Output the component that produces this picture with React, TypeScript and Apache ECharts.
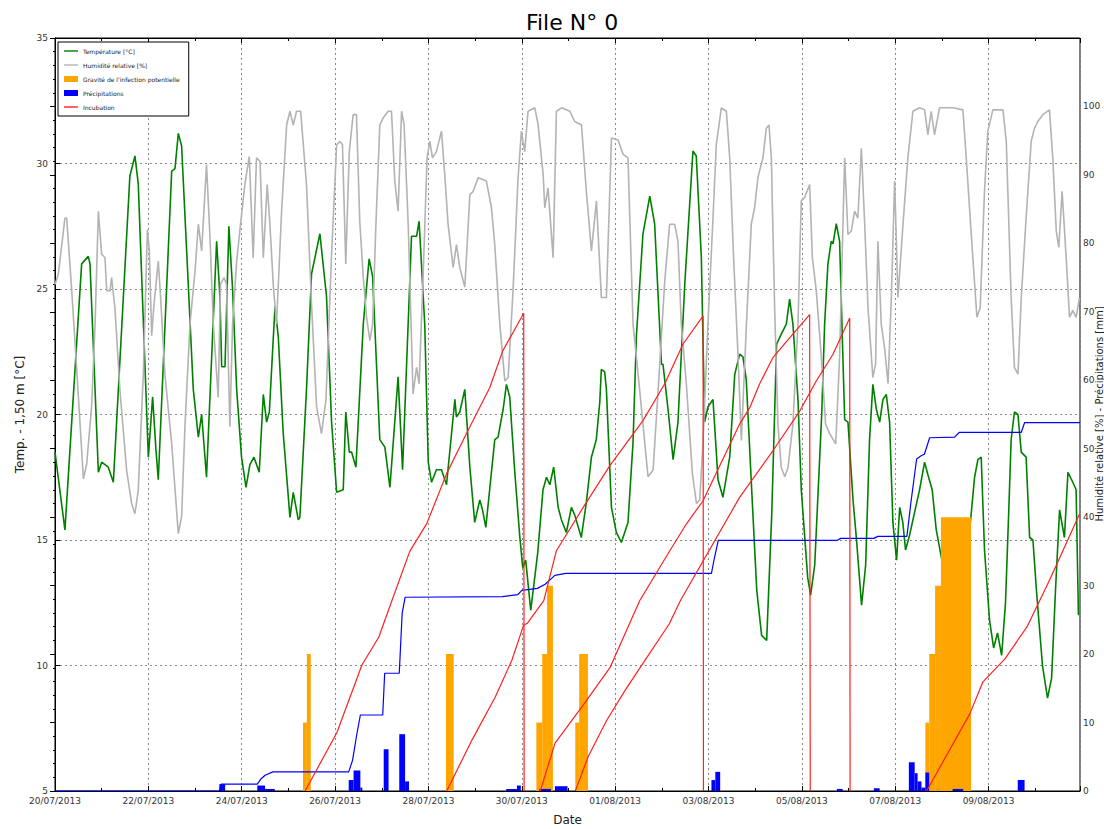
import React, { useEffect, useRef } from 'react';
import * as echarts from 'echarts';

const FONT = 'DejaVu Sans';
const START_UTC = Date.UTC(2013, 6, 20); // 20/07/2013 00:00, x values are hours since this
const X_MAX_HOURS = 527;
const X_TICK_HOURS = 48;

const legendNames = [
  'Température [°C]',
  'Humidité relative [%]',
  "Gravité de l'infection potentielle",
  'Précipitations',
  'Incubation',
];
const rightAxisTitle = 'Humidité relative [%] - Précipitations [mm]';

// [hour, °C]
const temperature: number[][] = [
  [0,18.5],[5.1,15.4],[13.7,26.0],[17.1,26.3],[18.0,26.0],[22.3,17.7],[24.0,18.1],[27.4,17.9],[30.0,17.3],
  [38.5,29.5],[41.1,30.3],[42.8,29.2],[48.0,18.3],[50.2,20.7],[51.9,18.6],[53.1,17.4],[60.0,29.7],[61.7,29.8],
  [63.4,31.2],[65.1,30.7],[71.1,21.0],[73.7,19.1],[75.4,20.0],[77.9,17.5],[83.1,26.9],[84.8,24.7],[85.7,21.9],
  [87.4,21.9],[89.4,27.5],[91.3,25.0],[93.4,21.0],[95.9,18.3],[98.2,17.1],[100.2,18.0],[102.3,18.3],[105.0,17.7],
  [107.1,20.8],[108.8,19.7],[110.2,20.1],[113.1,24.3],[114.8,23.1],[117.3,19.3],[120.8,15.9],[122.5,16.9],
  [125.1,15.8],[125.9,15.9],[129.3,21.0],[131.9,25.6],[136.2,27.2],[139.6,24.7],[142.2,19.7],[144.8,16.9],
  [148.2,17.0],[149.5,20.1],[151.3,18.5],[152.5,18.5],[154.7,17.9],[158.5,23.6],[161.5,26.2],[163.3,25.5],
  [167.0,19.0],[169.6,18.7],[172.2,17.1],[176.4,21.5],[178.7,17.8],[183.3,27.1],[185.9,27.1],[187.2,27.7],
  [190.1,23.6],[191.9,18.1],[193.6,17.3],[196.1,17.8],[198.7,17.8],[201.3,17.2],[205.6,20.6],[206.4,19.9],
  [208.1,20.1],[210.7,21.0],[213.3,17.9],[215.8,15.7],[218.4,16.6],[219.8,16.2],[221.5,15.5],[226.1,19.0],
  [227.8,19.1],[230.4,20.2],[232.1,21.2],[233.8,20.7],[236.4,17.7],[239.0,15.1],[240.5,13.9],[242.0,14.2],
  [244.6,12.2],[248.2,14.5],[250.9,17.0],[252.7,17.5],[254.4,17.2],[256.4,17.9],[258.7,16.3],[260.4,15.8],
  [262.9,15.3],[265.5,16.3],[267.2,16.0],[270.6,15.1],[273.2,16.5],[275.8,18.3],[278.3,19.0],[280.1,20.5],
  [280.9,21.8],[282.6,21.7],[283.5,21.0],[286.1,16.3],[288.6,15.3],[291.2,14.9],[294.6,15.7],[297.2,18.9],
  [298.9,23.1],[302.3,27.2],[305.8,28.7],[308.3,27.6],[311.8,22.0],[312.6,22.0],[315.2,20.2],[317.8,18.2],
  [320.3,19.7],[323.8,25.2],[328.0,30.5],[329.7,30.3],[332.3,26.3],[334.0,19.7],[335.7,20.3],[338.3,20.6],
  [340.9,17.4],[343.4,16.7],[346.9,18.3],[349.5,21.6],[352.0,22.4],[353.7,22.3],[355.4,21.4],[358.2,17.0],
  [360.8,13.0],[363.3,11.2],[365.9,11.0],[368.5,16.0],[371.0,22.8],[373.4,23.2],[376.0,23.6],[377.7,24.6],
  [379.4,23.6],[382.0,20.6],[383.7,17.0],[387.0,13.5],[388.5,12.8],[390.6,14.0],[394.2,20.0],[395.7,23.6],
  [397.4,26.0],[399.1,26.9],[400.0,26.8],[401.7,27.6],[403.4,26.9],[406.0,19.8],[407.7,19.7],[410.3,16.6],
  [412.1,15.0],[414.7,12.4],[416.8,14.0],[418.8,19.0],[420.5,21.2],[422.3,20.2],[424.0,19.7],[425.7,20.6],
  [427.4,20.8],[429.1,19.7],[430.8,15.7],[432.7,14.2],[434.3,16.3],[435.9,15.7],[437.3,14.6],[439.4,15.2],
  [444.5,17.0],[447.1,18.1],[448.8,17.6],[451.0,17.0],[453.1,15.4],[457.9,13.4],[461.0,13.8],[465.1,14.0],
  [469.2,14.5],[472.8,17.5],[474.5,18.2],[476.2,18.3],[477.9,14.6],[480.5,11.8],[482.6,10.7],[484.6,11.3],
  [486.7,10.4],[488.7,12.5],[490.3,16.0],[491.6,19.0],[493.3,20.1],[495.1,20.0],[496.8,18.5],[499.3,18.3],
  [501.1,15.1],[502.8,15.0],[504.6,13.0],[507.7,10.0],[510.3,8.7],[512.4,9.5],[514.4,13.0],[516.5,16.2],
  [519.0,15.1],[520.8,17.7],[523.3,17.3],[525.0,17.0],[526.2,12.0],
];

// [hour, %]
const humidity: number[][] = [
  [0,74.0],[1.7,75.5],[5.1,83.7],[6.0,83.7],[8.6,73.1],[11.1,61.9],[14.6,45.6],[16.3,47.8],[18.8,56.1],
  [20.6,68.2],[22.3,84.7],[24.0,78.4],[25.7,77.9],[26.6,73.1],[28.3,73.1],[29.1,75.0],[30.8,70.6],[33.4,58.5],
  [36.8,46.9],[39.4,42.0],[41.1,40.5],[42.8,43.9],[45.4,60.9],[47.5,82.0],[48.5,78.9],[49.7,66.5],[50.9,71.1],
  [53.1,77.4],[54.3,72.1],[56.5,60.9],[60.0,50.7],[63.4,37.6],[65.1,40.1],[66.8,53.2],[69.4,68.2],[72.0,76.0],
  [73.7,82.8],[75.4,78.9],[77.9,91.5],[79.7,80.8],[81.4,68.2],[83.9,57.5],[85.1,74.0],[86.9,75.0],[88.2,74.0],
  [89.9,53.2],[91.3,68.2],[93.4,77.4],[95.4,82.8],[97.6,88.6],[99.9,92.7],[101.9,77.9],[103.6,92.5],[105.4,92.0],
  [107.1,77.9],[109.1,88.6],[110.5,82.8],[112.2,74.0],[113.9,68.2],[116.5,84.7],[119.1,97.3],[120.8,99.3],
  [122.5,97.3],[124.2,99.3],[126.3,99.3],[129.3,88.6],[131.9,71.1],[134.5,56.1],[137.0,52.2],[139.3,57.1],
  [142.2,78.4],[144.8,94.4],[146.5,94.9],[147.8,94.4],[149.5,77.0],[151.3,93.4],[153.3,98.8],[155.0,98.8],
  [156.7,83.2],[158.5,75.0],[160.2,69.2],[161.9,65.8],[163.3,68.2],[165.0,82.8],[167.0,97.3],[168.7,98.3],
  [171.3,99.3],[173.0,99.3],[174.7,89.1],[176.4,84.7],[178.2,99.3],[179.5,97.3],[181.6,82.8],[184.1,58.0],
  [185.9,61.9],[187.2,59.5],[189.3,75.5],[191.3,92.5],[192.7,94.9],[194.1,92.5],[196.1,93.4],[198.7,96.4],
  [200.4,90.0],[202.1,82.8],[204.7,76.5],[206.4,79.8],[208.1,76.5],[210.7,73.6],[213.3,87.1],[215.0,87.6],
  [217.6,89.6],[221.8,89.1],[224.4,85.2],[226.1,79.8],[228.7,68.2],[231.3,59.9],[233.0,60.4],[235.5,73.1],
  [238.1,89.6],[239.8,96.4],[241.5,93.4],[243.2,99.3],[246.7,99.8],[248.4,97.3],[251.0,90.0],[251.8,85.2],
  [253.5,88.1],[256.1,77.9],[257.8,99.3],[260.4,99.8],[264.7,99.3],[267.2,97.8],[270.7,97.3],[273.2,87.6],
  [275.8,78.9],[278.4,86.2],[280.9,72.1],[283.5,72.1],[286.1,95.4],[289.5,95.1],[292.1,93.0],[294.6,92.5],
  [297.2,68.2],[299.8,60.9],[302.3,53.6],[304.9,45.9],[307.5,46.9],[310.1,58.5],[313.5,74.5],[316.0,82.8],
  [318.6,82.8],[320.3,80.3],[322.0,68.2],[324.6,59.5],[327.7,46.4],[329.8,42.0],[331.5,42.5],[333.2,51.2],
  [335.7,68.2],[338.3,83.7],[340.0,94.4],[342.6,99.8],[345.2,99.3],[346.9,92.5],[348.9,77.9],[351.2,63.4],
  [352.9,51.2],[355.5,68.2],[358.0,82.8],[359.7,85.2],[361.4,89.6],[364.0,92.5],[365.7,96.8],[367.1,97.3],
  [368.3,92.5],[370.0,70.6],[371.7,53.6],[373.4,47.3],[375.2,45.9],[376.9,47.3],[379.4,53.6],[382.0,68.2],
  [383.7,86.2],[385.4,86.7],[388.0,88.6],[389.4,77.9],[391.4,73.1],[394.0,63.4],[396.2,53.6],[398.3,52.2],
  [401.4,50.7],[403.4,63.4],[406.0,92.5],[407.7,81.3],[409.4,81.8],[411.1,84.7],[412.8,83.7],[414.6,93.9],
  [416.3,82.8],[418.0,70.6],[420.5,60.4],[421.9,62.4],[423.1,80.3],[424.8,68.2],[426.5,64.8],[428.3,59.5],
  [430.0,72.1],[431.7,89.1],[433.4,72.1],[436.0,82.8],[438.5,92.5],[441.1,99.3],[444.5,99.8],[447.1,99.5],
  [448.8,95.9],[450.5,99.3],[452.2,95.9],[454.8,99.8],[461.7,99.8],[466.8,99.5],[468.5,92.5],[471.9,77.9],
  [474.0,69.2],[475.7,70.6],[477.9,87.6],[479.6,96.4],[482.2,99.5],[487.4,99.5],[489.1,94.9],[491.6,72.1],
  [493.3,61.9],[495.1,60.9],[496.8,72.1],[499.3,83.7],[501.9,94.9],[503.6,96.8],[505.3,97.8],[507.9,98.8],
  [511.3,99.5],[513.0,92.5],[514.8,81.8],[516.1,79.4],[517.8,87.6],[519.9,77.9],[521.6,69.2],[523.3,70.2],
  [525.0,69.2],[526.7,72.0],
];

// [start hour, end hour, level]
const gravity: number[][] = [
  [127.5,129.5,10],[129.5,131.5,20],
  [201,205,20],
  [247.5,250.5,10],[250.5,253,20],[253,256,30],
  [267.5,269.5,10],[269.5,274,20],
  [447.5,449.5,10],[449.5,452.5,20],[452.5,455.5,30],[455.5,471,40],
];

// [start hour, end hour, mm]
const precipitation: number[][] = [
  [84.5,87.5,1.0],
  [104,108,0.8],[108,113,0.3],
  [151,153.5,1.6],[153.5,157,3.0],[157,158,0.5],
  [169,171.5,6.1],
  [177,180,8.3],[180,182,1.4],
  [232,237.5,0.3],[237.5,239.5,0.8],
  [249,255,0.3],
  [257,263.5,0.7],
  [337.5,339.5,1.6],[339.5,342,2.8],
  [402,405,0.3],
  [421,424,0.4],
  [439,442,4.2],[442,443.5,2.6],[443.5,445.5,1.4],[445.5,447.5,0.5],[447.5,449.5,2.7],
  [461.5,467,0.3],
  [495,498.5,1.6],
];

// [hour, mm] cumulative precipitation
const cumulativePrecip: number[][] = [
  [0,0],[84.5,0],[85.5,1.0],[104,1.0],[106,1.8],[108,2.3],[112,2.8],[151,2.8],[153,4.5],[155,8],[157,11.1],
  [168.5,11.1],[169.5,17.2],[177,17.2],[178.5,26],[180,28.3],[230,28.4],[238,28.7],[240,29.3],[248,29.6],
  [252,30.2],[257,31.5],[262.5,31.8],[337.5,31.8],[339,34],[341,36.6],[402,36.6],[404,36.9],[421,36.9],
  [423,37.2],[438,37.2],[440,42],[443,48.5],[445.5,49],[447,49.2],[449.7,51.6],[462.5,51.7],[465,52.4],
  [496.8,52.4],[498.5,53.8],[527,53.8],
];

// incubation progress curves [hour, value]
const incubation1: number[][] = [
  [128.6,0],[144.9,8.5],[157.8,18.4],[166.5,22.5],[173.2,27.8],[182.4,35.0],[191.2,39.1],[201.4,46.4],
  [212.2,52.6],[223.5,58.9],[230.2,64.3],[241.0,69.8],[241.2,0],
];
const incubation2: number[][] = [
  [201.4,0],[214.3,7.4],[226.3,13.7],[234.9,19.1],[240.9,24.2],[242.8,24.5],[251.3,27.8],[257.8,35.1],
  [271.5,41.4],[285.2,47.5],[302.3,54.1],[313.5,59.5],[322.9,65.3],[331.5,68.7],[333.2,69.4],[333.4,0],
];
const incubation3: number[][] = [
  [249.5,0],[257.1,7.0],[272.2,12.8],[285.5,18.1],[300.6,27.8],[316.1,35.1],[324.6,39.0],[333.2,42.4],
  [352.0,53.6],[357.2,56.0],[362.3,59.5],[369.1,63.3],[377.7,66.2],[388.0,69.6],[388.3,0],
];
const incubation4: number[][] = [
  [267.5,0],[274.1,5.0],[283.6,10.3],[293.1,14.7],[304.5,19.6],[315.8,24.4],[321.5,27.8],[352.0,42.9],
  [369.1,49.7],[382.9,55.5],[391.4,59.9],[400.0,63.8],[408.6,69.1],[408.8,0],
];
const incubation5: number[][] = [
  [448.1,0],[470.4,11.3],[477.0,15.9],[488.4,19.3],[499.8,24.0],[511.3,30.8],[518.2,35.1],[526.8,40.5],
];
const incubations = [incubation1, incubation2, incubation3, incubation4, incubation5];

const pad = (n: number) => String(n).padStart(2, '0');
const fmtDate = (h: number) => {
  const d = new Date(START_UTC + h * 3600000);
  return `${pad(d.getUTCDate())}/${pad(d.getUTCMonth() + 1)}/${d.getUTCFullYear()}`;
};

const barRenderer = (color: string) => (params: any, api: any) => {
  const p0 = api.coord([api.value(0), api.value(2)]);
  const p1 = api.coord([api.value(1), 0]);
  return {
    type: 'rect',
    shape: { x: p0[0], y: p0[1], width: p1[0] - p0[0], height: p1[1] - p0[1] },
    style: { fill: color },
  };
};

const LINE_ICON = 'path://M0,0 L20,0 L20,2 L0,2 Z';

export default function App() {
  const ref = useRef<HTMLDivElement>(null);
  useEffect(() => {
    const chart = echarts.init(ref.current!, null, { renderer: 'svg' });
    const tickLabel = { fontFamily: FONT, fontSize: 9, color: '#333' };
    const gridLine = { show: true, lineStyle: { color: '#8a8a8a', type: [2, 3], width: 1 } };
    const option: any = {
      animation: false,
      backgroundColor: '#fff',
      title: {
        text: 'File N° 0',
        left: 567,
        top: 6,
        textAlign: 'center',
        textStyle: { fontFamily: FONT, fontSize: 22, fontWeight: 'normal', color: '#000' },
      },
      graphic: [
        {
          type: 'text',
          x: 1099.5,
          y: 414,
          rotation: Math.PI / 2,
          style: {
            text: rightAxisTitle,
            fontFamily: FONT,
            fontSize: 10,
            fill: '#222',
            align: 'center',
            verticalAlign: 'middle',
          },
        },
      ],
      legend: {
        orient: 'vertical',
        left: 58,
        top: 42,
        itemWidth: 14,
        itemHeight: 6,
        itemGap: 8,
        padding: [6, 9, 6, 6],
        borderColor: '#000',
        borderWidth: 1,
        backgroundColor: '#fff',
        textStyle: { fontFamily: FONT, fontSize: 6, color: '#222' },
        data: [
          { name: legendNames[0], icon: LINE_ICON },
          { name: legendNames[1], icon: LINE_ICON },
          { name: legendNames[2], icon: 'rect' },
          { name: legendNames[3], icon: 'rect' },
          { name: legendNames[4], icon: LINE_ICON },
        ],
      },
      grid: {
        left: 55,
        right: 24,
        top: 38,
        bottom: 38,
        show: true,
        borderColor: '#000',
        borderWidth: 1,
        backgroundColor: 'transparent',
        containLabel: false,
        outerBoundsMode: 'none',
      },
      xAxis: [
        {
          type: 'value',
          min: 0,
          max: X_MAX_HOURS,
          interval: X_TICK_HOURS,
          name: 'Date',
          nameLocation: 'middle',
          nameGap: 23,
          nameTextStyle: { fontFamily: FONT, fontSize: 12, color: '#222' },
          axisLine: { lineStyle: { color: '#000', width: 1 } },
          axisTick: { inside: true, length: 5, lineStyle: { color: '#000' } },
          minorTick: { show: true, splitNumber: 2, length: 3, lineStyle: { color: '#000' } },
          axisLabel: { ...tickLabel, margin: 5, showMaxLabel: false, formatter: (v: number) => fmtDate(v) },
          splitLine: gridLine,
        },
        {
          type: 'value',
          position: 'top',
          min: 0,
          max: X_MAX_HOURS,
          interval: X_TICK_HOURS,
          axisLine: { lineStyle: { color: '#000', width: 1 } },
          axisTick: { inside: true, length: 5, lineStyle: { color: '#000' } },
          minorTick: { show: true, splitNumber: 2, length: 3, lineStyle: { color: '#000' } },
          axisLabel: { show: false },
          splitLine: { show: false },
        },
      ],
      yAxis: [
        {
          type: 'value',
          min: 5,
          max: 35,
          interval: 5,
          name: 'Temp. - 1,50 m [°C]',
          nameLocation: 'middle',
          nameGap: 28,
          nameRotate: 90,
          nameTextStyle: { fontFamily: FONT, fontSize: 12, color: '#222' },
          axisLine: { show: true, lineStyle: { color: '#000', width: 1 } },
          axisTick: { show: true, inside: true, length: 5, lineStyle: { color: '#000' } },
          axisLabel: { ...tickLabel, margin: 7 },
          splitLine: gridLine,
        },
        {
          type: 'value',
          min: 0,
          max: 110,
          interval: 10,
          position: 'right',
          axisLine: { show: true, lineStyle: { color: '#000', width: 1 } },
          axisTick: { show: true, inside: true, length: 5, lineStyle: { color: '#000' } },
          minorTick: { show: true, splitNumber: 5, length: 2, lineStyle: { color: '#000' } },
          axisLabel: { ...tickLabel, margin: 3, showMaxLabel: false },
          splitLine: { show: false },
        },
      ],
      series: [
        {
          name: legendNames[0],
          type: 'line',
          xAxisIndex: 0,
          yAxisIndex: 0,
          data: temperature,
          symbol: 'none',
          lineStyle: { color: '#008000', width: 1.6 },
          itemStyle: { color: '#008000' },
          z: 2,
        },
        {
          name: legendNames[1],
          type: 'line',
          yAxisIndex: 1,
          data: humidity,
          symbol: 'none',
          lineStyle: { color: '#b3b3b3', width: 1.6 },
          itemStyle: { color: '#b3b3b3' },
          z: 3,
        },
        {
          name: legendNames[2],
          type: 'custom',
          yAxisIndex: 1,
          data: gravity,
          encode: { x: [0, 1], y: 2 },
          renderItem: barRenderer('#FFA500'),
          itemStyle: { color: '#FFA500' },
          z: 4,
        },
        {
          name: legendNames[3],
          type: 'custom',
          yAxisIndex: 1,
          data: precipitation,
          encode: { x: [0, 1], y: 2 },
          renderItem: barRenderer('#0000FF'),
          itemStyle: { color: '#0000FF' },
          z: 5,
        },
        {
          name: 'Cumul précipitations',
          type: 'line',
          yAxisIndex: 1,
          data: cumulativePrecip,
          symbol: 'none',
          lineStyle: { color: '#0000FF', width: 1.2 },
          itemStyle: { color: '#0000FF' },
          z: 6,
        },
        ...incubations.map((d) => ({
          name: legendNames[4],
          type: 'line',
          yAxisIndex: 1,
          data: d,
          symbol: 'none',
          lineStyle: { color: '#FF2020', width: 1.2 },
          itemStyle: { color: '#FF2020' },
          z: 7,
        })),
      ],
    };
    chart.setOption(option);
    return () => chart.dispose();
  }, []);
  return (
    <div
      ref={ref}
      style={{ position: 'absolute', left: 0, top: 0, width: 1104, height: 829, background: '#fff' }}
    />
  );
}
